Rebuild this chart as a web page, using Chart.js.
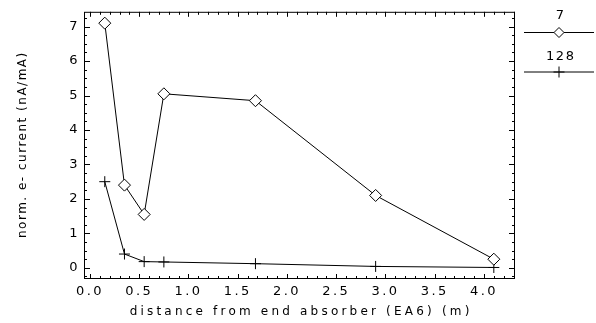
<!DOCTYPE html>
<html>
<head>
<meta charset="utf-8">
<script src="https://cdn.jsdelivr.net/npm/chart.js@4.4.1/dist/chart.umd.min.js"></script>
<style>
    html, body { margin: 0; padding: 0; background: #fff; }
    #wrap { width: 596px; height: 323px; }
</style>
</head>
<body>
<div id="wrap"><canvas id="absorberChart" width="596" height="323"></canvas></div>
<script>
'use strict';

// ============================================================================
// DATA
// ============================================================================

/** distance from end absorber EA6 (m) */
const distances = [0.15, 0.35, 0.55, 0.75, 1.68, 2.9, 4.1];

/** normalised e- current (nA/mA), fill 7 */
const current7 = [7.1, 2.4, 1.55, 5.05, 4.85, 2.1, 0.25];

/** normalised e- current (nA/mA), fill 128 */
const current128 = [2.5, 0.4, 0.18, 0.17, 0.12, 0.04, 0.01];

const seriesLabels = ['7', '128'];
const xTicks = [0.0, 0.5, 1.0, 1.5, 2.0, 2.5, 3.0, 3.5, 4.0];
const yTicks = [0, 1, 2, 3, 4, 5, 6, 7];
const xTitle = 'distance from end absorber (EA6) (m)';
const yTitle = 'norm. e- current (nA/mA)';

const FONT = "'DejaVu Sans', sans-serif";

// ============================================================================
// PLUGIN: frame, inward ticks, axis titles, legend
// ============================================================================

const idlFrame = {
    id: 'idlFrame',
    beforeDraw(chart) {
        // wide Hershey-like spacing for the tick labels
        chart.ctx.letterSpacing = '2.5px';
    },
    afterDraw(chart) {
        const ctx = chart.ctx;
        const area = chart.chartArea;
        const xs = chart.scales.x;
        const ys = chart.scales.y;
        ctx.save();
        ctx.strokeStyle = '#000';
        ctx.lineWidth = 1;

        // box
        ctx.strokeRect(area.left + 0.5, area.top + 0.5,
            area.right - area.left - 1, area.bottom - area.top - 1);

        // x ticks (major 0.5, minor 0.1), bottom and top
        ctx.beginPath();
        for (let i = 0; i <= 43; i++) {
            const px = Math.round(xs.getPixelForValue(i / 10)) + 0.5;
            const len = i % 5 === 0 ? 5 : 3;
            ctx.moveTo(px, area.bottom);
            ctx.lineTo(px, area.bottom - len);
            ctx.moveTo(px, area.top);
            ctx.lineTo(px, area.top + len);
        }
        // y ticks (major 1, minor 0.25), left and right
        for (let i = -1; i <= 29; i++) {
            const py = Math.round(ys.getPixelForValue(i / 4)) + 0.5;
            const len = i % 4 === 0 ? 6 : 3;
            ctx.moveTo(area.left, py);
            ctx.lineTo(area.left + len, py);
            ctx.moveTo(area.right, py);
            ctx.lineTo(area.right - len, py);
        }
        ctx.stroke();

        // axis titles
        ctx.fillStyle = '#000';
        ctx.font = '12px ' + FONT;
        ctx.textAlign = 'center';
        ctx.textBaseline = 'middle';
        ctx.letterSpacing = '3.2px';
        ctx.fillText(xTitle, (area.left + area.right) / 2 + 1.6, 312);

        ctx.save();
        ctx.translate(23, (area.top + area.bottom) / 2);
        ctx.rotate(-Math.PI / 2);
        ctx.letterSpacing = '1.5px';
        ctx.fillText(yTitle, 0.75, 0);
        ctx.restore();

        // legend
        const rows = [
            { labelY: 16, lineY: 32.5 },
            { labelY: 57, lineY: 72 }
        ];
        ctx.font = '13px ' + FONT;
        chart.data.datasets.forEach((ds, k) => {
            const row = rows[k];
            ctx.letterSpacing = '1.5px';
            ctx.fillText(ds.label, 560 + 0.75, row.labelY);
            ctx.beginPath();
            ctx.moveTo(524, row.lineY);
            ctx.lineTo(594, row.lineY);
            ctx.stroke();
            ctx.fillStyle = '#fff';
            Chart.helpers.drawPoint(ctx, {
                pointStyle: ds.pointStyle,
                radius: k === 0 ? 5 : 5.5,
                rotation: 0,
                borderWidth: 1
            }, 559, row.lineY);
            ctx.fillStyle = '#000';
        });
        ctx.restore();
    }
};

// ============================================================================
// CHART
// ============================================================================

function toPoints(values) {
    return distances.map((d, i) => ({ x: d, y: values[i] }));
}

const tickFont = { family: FONT, size: 13 };

new Chart(document.getElementById('absorberChart').getContext('2d'), {
    type: 'scatter',
    data: {
        datasets: [
            {
                label: seriesLabels[0],
                data: toPoints(current7),
                showLine: true,
                borderColor: '#000',
                borderWidth: 1,
                backgroundColor: '#fff',
                pointStyle: 'rectRot',
                pointRadius: 6,
                pointBorderColor: '#000',
                pointBackgroundColor: '#fff',
                pointBorderWidth: 1
            },
            {
                label: seriesLabels[1],
                data: toPoints(current128),
                showLine: true,
                borderColor: '#000',
                borderWidth: 1,
                pointStyle: 'cross',
                pointRadius: 5.5,
                pointBorderColor: '#000',
                pointBorderWidth: 1
            }
        ]
    },
    options: {
        responsive: false,
        animation: false,
        devicePixelRatio: 1,
        layout: { padding: { left: 0, top: 9, right: 81, bottom: 0 } },
        plugins: {
            legend: { display: false },
            tooltip: { enabled: false }
        },
        scales: {
            x: {
                type: 'linear',
                min: -0.0609,
                max: 4.315,
                afterBuildTicks: s => { s.ticks = xTicks.map(v => ({ value: v })); },
                afterFit: s => { s.height = 44; },
                ticks: {
                    color: '#000',
                    font: tickFont,
                    padding: 5,
                    maxRotation: 0,
                    callback: v => v.toFixed(1)
                },
                grid: { display: false, drawTicks: false },
                border: { display: false }
            },
            y: {
                type: 'linear',
                min: -0.3246,
                max: 7.43,
                afterBuildTicks: s => { s.ticks = yTicks.map(v => ({ value: v })); },
                afterFit: s => { s.width = 84; },
                ticks: {
                    color: '#000',
                    font: tickFont,
                    padding: 4,
                    callback: v => String(v)
                },
                grid: { display: false, drawTicks: false },
                border: { display: false }
            }
        }
    },
    plugins: [idlFrame]
});
</script>
</body>
</html>
